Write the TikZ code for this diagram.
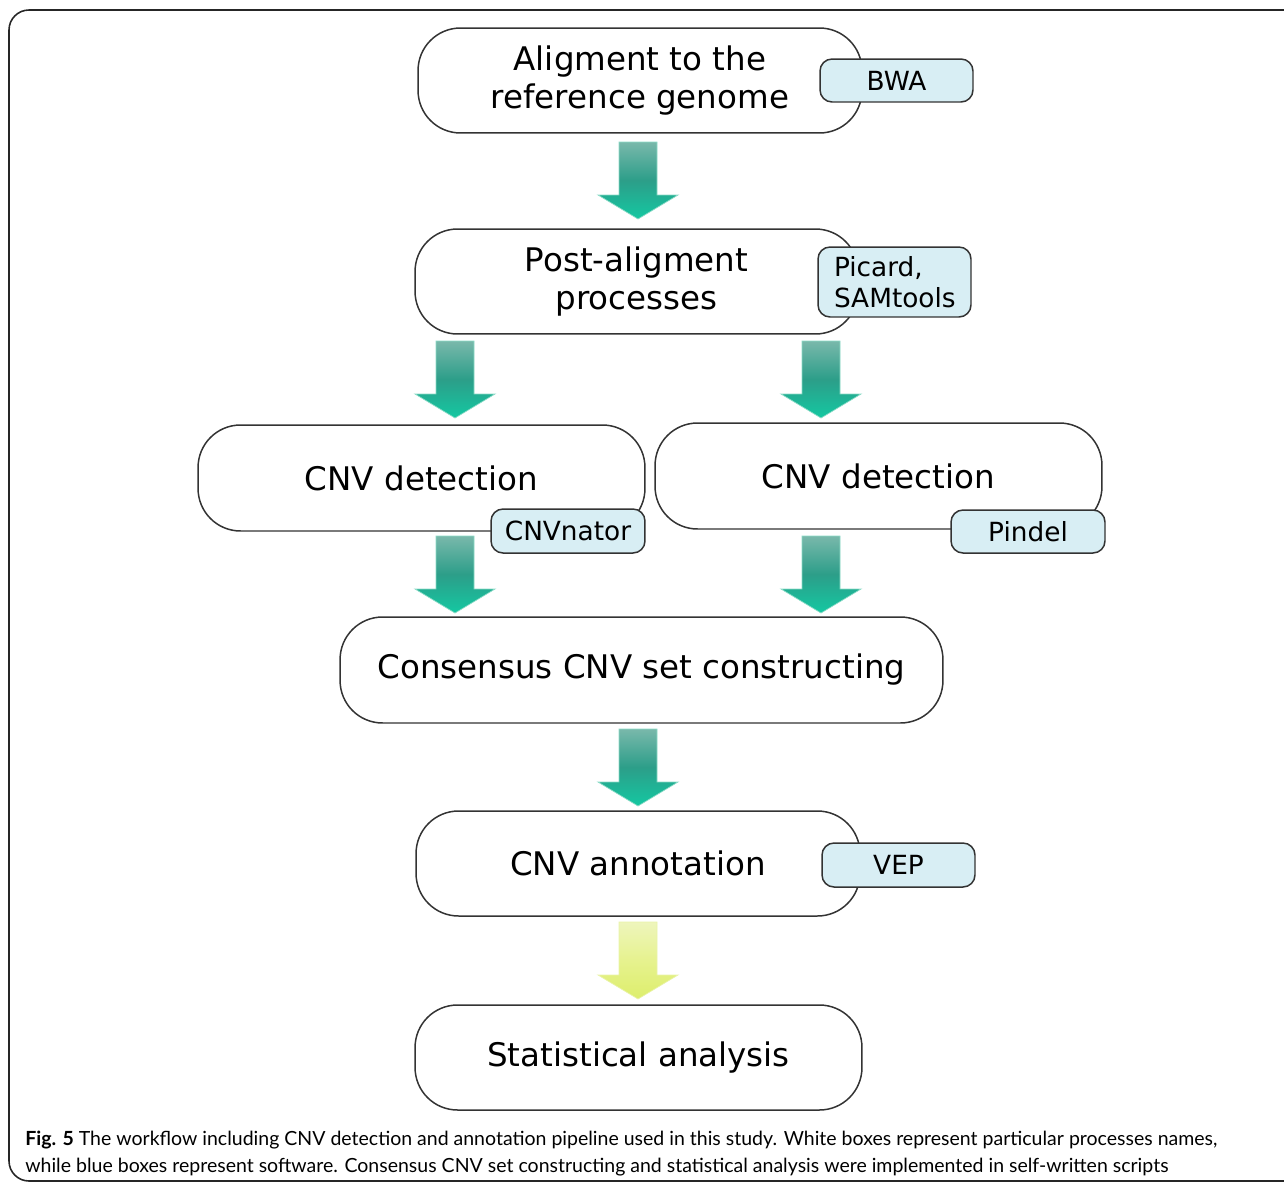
\documentclass[tikz,border=0pt]{standalone}
\usepackage{fontspec}
\setmainfont{DejaVu Sans}
\newfontfamily\capfont{Lato}
\definecolor{boxline}{HTML}{333333}
\definecolor{swfill}{HTML}{D8EEF4}
\definecolor{tealtop}{HTML}{79B8AB}
\definecolor{tealmid}{HTML}{2C9E89}
\definecolor{tealbot}{HTML}{14C8A2}
\definecolor{tealedge}{HTML}{8ADBC6}
\definecolor{yeltop}{HTML}{EEF5BC}
\definecolor{yelmid}{HTML}{E6F28E}
\definecolor{yelbot}{HTML}{DDEE6C}
\definecolor{yeledge}{HTML}{E9F3A8}
\tikzset{
  procbox/.style={draw=boxline, line width=0.85pt, fill=white, rounded corners=0.85cm,
    align=center, font=\fontsize{18.5}{21.5}\selectfont, inner sep=0pt},
  swbox/.style={draw=boxline, line width=0.85pt, fill=swfill, rounded corners=0.24cm,
    font=\fontsize{15}{18}\selectfont, inner sep=0pt, minimum width=3.06cm},
  tealarrow/.style={draw=tealedge, line width=0.4pt, top color=tealtop, bottom color=tealbot, middle color=tealmid},
  yelarrow/.style={draw=yeledge, line width=0.4pt, top color=yeltop, bottom color=yelbot, middle color=yelmid},
  captext/.style={anchor=base west, inner sep=0pt, font=\capfont\fontsize{11.1}{14}\selectfont},
}
% block arrow: #1 style, #2 x centre, #3 top y (pixel units)
\newcommand\blockarr[3]{%
  \path[#1] (#2-19,#3) -- (#2+19,#3) -- (#2+19,#3+53) -- (#2+40,#3+53) -- (#2,#3+77)
    -- (#2-40,#3+53) -- (#2-19,#3+53) -- cycle;}
\begin{document}
\begin{tikzpicture}[x=0.02cm, y=-0.02cm]
\useasboundingbox (0,0) rectangle (1284,1183);
\draw[color=black!85, line width=0.9pt, rounded corners=0.4cm] (9,1181) -- (9,10) -- (1320,10) -- (1320,1181) -- cycle;

% process boxes
\node[procbox, minimum width=8.88cm, minimum height=2.1cm] (align) at (640,80.5) {Aligment to the\\reference genome};
\node[procbox, minimum width=8.86cm, minimum height=2.1cm] (post) at (636.5,281.5) {Post-aligment\\processes};
\node[procbox, minimum width=8.94cm, minimum height=2.12cm] (cnvL) at (421.5,478) {CNV detection};
\node[procbox, minimum width=8.94cm, minimum height=2.12cm] (cnvR) at (878.5,476) {CNV detection};
\node[procbox, minimum width=12.06cm, minimum height=2.12cm] (cons) at (641.5,670) {Consensus CNV set constructing};
\node[procbox, minimum width=8.88cm, minimum height=2.1cm] (annot) at (638,863.5) {CNV annotation};
\node[procbox, minimum width=8.94cm, minimum height=2.1cm] (stat) at (638.5,1057.5) {Statistical analysis};

% software boxes
\node[swbox, minimum height=0.86cm] (bwa) at (896.5,80.5) {BWA};
\node[swbox, minimum height=1.4cm, align=left, text width=2.42cm] (picard) at (894.5,282) {Picard,\\SAMtools};
\node[swbox, minimum height=0.88cm, minimum width=3.08cm] (cnvnator) at (568,531) {CNVnator};
\node[swbox, minimum height=0.86cm, minimum width=3.08cm] (pindel) at (1028,531.5) {Pindel};
\node[swbox, minimum height=0.88cm] (vep) at (898.5,865) {VEP};

% arrows
\blockarr{tealarrow}{638}{142}
\blockarr{tealarrow}{455}{341}
\blockarr{tealarrow}{821}{341}
\blockarr{tealarrow}{455}{536}
\blockarr{tealarrow}{821}{536}
\blockarr{tealarrow}{638}{729}
\blockarr{yelarrow}{638}{922}

% caption
\node[captext] (cap1) at (25,1145)
  {\textbf{Fig. 5} The workflow including CNV detection and annotation pipeline used in this study. White boxes represent particular processes names,};
\node[captext] (cap2) at (25,1172)
  {while blue boxes represent software. Consensus CNV set constructing and statistical analysis were implemented in self-written scripts};
\end{tikzpicture}
\end{document}
